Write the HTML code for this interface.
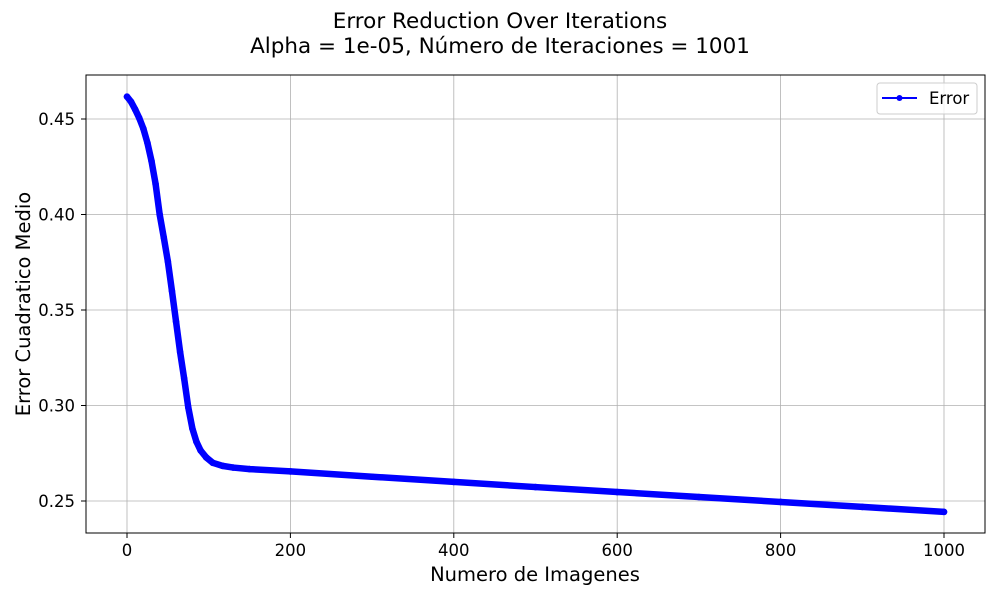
<!DOCTYPE html>
<html><head><meta charset="utf-8">
<style>
html,body{margin:0;padding:0;background:#fff;}
svg{display:block;font-family:"DejaVu Sans","Liberation Sans",sans-serif;}
</style></head>
<body>
<svg id="chart" width="1000" height="600" viewBox="0 0 1000 600">
  <text x="500" y="28" text-anchor="middle" font-size="21.5" fill="#000">Error Reduction Over Iterations</text>
  <text x="500" y="53" text-anchor="middle" font-size="21.5" fill="#000">Alpha = 1e-05, Número de Iteraciones = 1001</text>
  <g id="grid"></g>
  <g id="series"></g>
  <rect x="86" y="75" width="899" height="458" fill="none" stroke="#000" stroke-width="1"/>
  <g id="ticks"></g>
  <text x="535" y="581" text-anchor="middle" font-size="19.5">Numero de Imagenes</text>
  <text transform="translate(30,304) rotate(-90)" text-anchor="middle" font-size="19.5">Error Cuadratico Medio</text>
  <g>
    <rect x="877" y="83" width="100" height="31" rx="3" fill="#fff" fill-opacity="0.8" stroke="#ccc"/>
    <line x1="882" y1="98" x2="917" y2="98" stroke="#0000ff" stroke-width="2"/>
    <circle cx="899.5" cy="98" r="3" fill="#0000ff"/>
    <text x="929" y="104" font-size="16.5">Error</text>
  </g>
</svg>
<script>
const iterations = [0,5,10,15,20,25,30,35,40,45,50,55,60,65,70,75,80,85,90,97,105,117,130,150,200,300,400,500,600,700,800,900,1000];
const errors = [0.4617,0.4590,0.4550,0.4505,0.4450,0.4375,0.4280,0.4160,0.4000,0.3880,0.3755,0.3600,0.3440,0.3280,0.3140,0.2990,0.2880,0.2810,0.2765,0.2728,0.2700,0.2684,0.2675,0.2667,0.2655,0.2627,0.2600,0.2573,0.2547,0.2521,0.2495,0.2469,0.2443];
const xTicks = [0,200,400,600,800,1000];
const yTicks = [0.25,0.30,0.35,0.40,0.45];
const NS = "http://www.w3.org/2000/svg";
function xs(v){ return 127 + (v - 0) * (944 - 127) / 1000; }
function ys(v){ return 501 - (v - 0.25) * (501 - 119) / 0.20; }
function mk(tag, attrs, parent){ const e = document.createElementNS(NS, tag); for (const k in attrs) e.setAttribute(k, attrs[k]); parent.appendChild(e); return e; }
const grid = document.getElementById('grid'), ticks = document.getElementById('ticks'), series = document.getElementById('series');
xTicks.forEach(t => {
  const g = mk('line', {x1: xs(t), x2: xs(t), y1: 75, y2: 533, stroke: '#b0b0b0', 'stroke-width': 0.8}, grid);
  
  
  const tk = mk('line', {x1: xs(t), x2: xs(t), y1: 533, y2: 538, stroke: '#000'}, ticks);
  
  
  const lb = mk('text', {x: xs(t), y: 556, 'text-anchor': 'middle', 'font-size': 16.5}, ticks);
  lb.textContent = String(t);
  
  
});
yTicks.forEach(t => {
  const g = mk('line', {x1: 86, x2: 985, y1: ys(t), y2: ys(t), stroke: '#b0b0b0', 'stroke-width': 0.8}, grid);
  
  
  const tk = mk('line', {x1: 81, x2: 86, y1: ys(t), y2: ys(t), stroke: '#000'}, ticks);
  
  
  const lb = mk('text', {x: 75, y: ys(t) + 6, 'text-anchor': 'end', 'font-size': 16.5}, ticks);
  lb.textContent = t.toFixed(2);
  
  
});
const pts = iterations.map((x, i) => xs(x) + ',' + ys(errors[i])).join(' ');
const band = mk('polyline', {points: pts, fill: 'none', stroke: '#0000ff', 'stroke-width': 6.5, 'stroke-linejoin': 'round', 'stroke-linecap': 'round'}, series);


iterations.forEach((x, i) => {
  const c = mk('circle', {cx: xs(x), cy: ys(errors[i]), r: 3.3, fill: '#0000ff'}, series);
  
  
});
</script>
</body></html>
